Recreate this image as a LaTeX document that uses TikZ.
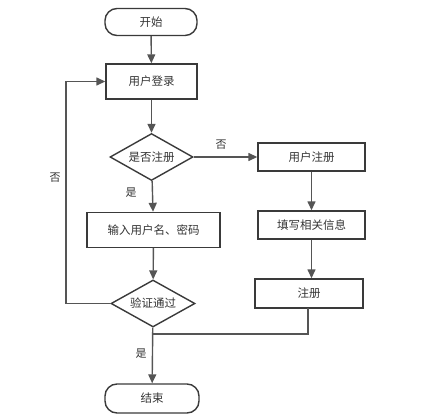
\documentclass[tikz,border=0pt]{standalone}
\usepackage{fontspec}
\newfontfamily\cjk{Noto Sans CJK SC}
\usetikzlibrary{shapes.geometric,arrows.meta}
\definecolor{boxc}{HTML}{3A3A3A}
\definecolor{linec}{HTML}{555555}
\definecolor{txtc}{HTML}{333333}
\tikzset{
  base/.style={draw=boxc, line width=1.4pt, text=txtc, font=\cjk\fontsize{11.5}{13}\selectfont, inner sep=0pt},
  procbox/.style={base, rectangle},
  termbox/.style={base, rectangle, rounded corners=12pt},
  decbox/.style={base, diamond, aspect=1.77},
  conn/.style={draw=linec, line width=1.4pt, -{Triangle[length=9pt,width=8pt]}},
  plainconn/.style={draw=linec, line width=1.4pt},
  lbl/.style={text=txtc, font=\cjk\fontsize{11}{13}\selectfont, inner sep=0pt}
}
\begin{document}
\begin{tikzpicture}[x=1pt,y=-1pt]
\useasboundingbox (0,0) rectangle (426,420);
\node[termbox, minimum width=92pt, minimum height=27pt] (start) at (151,22) {开始};
\node[procbox, minimum width=91pt, minimum height=35pt] (login) at (151.5,81.5) {用户登录};
\node[decbox, minimum width=83pt, minimum height=47pt] (isreg) at (151.5,157) {是否注册};
\node[procbox, minimum width=133pt, minimum height=35pt] (input) at (153.5,230) {输入用户名、密码};
\node[decbox, minimum width=84pt, minimum height=47pt] (verify) at (153,303.5) {验证通过};
\node[termbox, minimum width=94pt, minimum height=29pt] (end) at (152,398.5) {结束};
\node[procbox, minimum width=107pt, minimum height=28pt] (ureg) at (311.5,157) {用户注册};
\node[procbox, minimum width=107pt, minimum height=28pt] (fill) at (311.5,225) {填写相关信息};
\node[procbox, minimum width=108pt, minimum height=29pt] (reg) at (309,293.5) {注册};
\coordinate (loopbot) at (66,303.5);
\coordinate (looptop) at (66,81.5);
\coordinate (join) at (153,334);
\coordinate (regout) at (308,308);
\coordinate (regcorner) at (308,334);
\draw[conn] (start) -- (login);
\draw[conn] (login) -- (isreg);
\draw[conn] (isreg) -- (input);
\draw[conn] (input) -- (verify);
\draw[conn] (verify) -- (end);
\draw[conn] (isreg) -- (ureg);
\draw[conn] (ureg) -- (fill);
\draw[conn] (fill.south) -- (fill.south |- reg.north);
\draw[plainconn] (regout) -- (regcorner) -- (join);
\draw[conn] (verify.west) -- (loopbot) -- (looptop) -- (login.west);
\node[lbl] (yes1) at (131,193) {是};
\node[lbl] (no1) at (221,145) {否};
\node[lbl] (no2) at (55,178) {否};
\node[lbl] (yes2) at (141,354) {是};
\end{tikzpicture}
\end{document}
